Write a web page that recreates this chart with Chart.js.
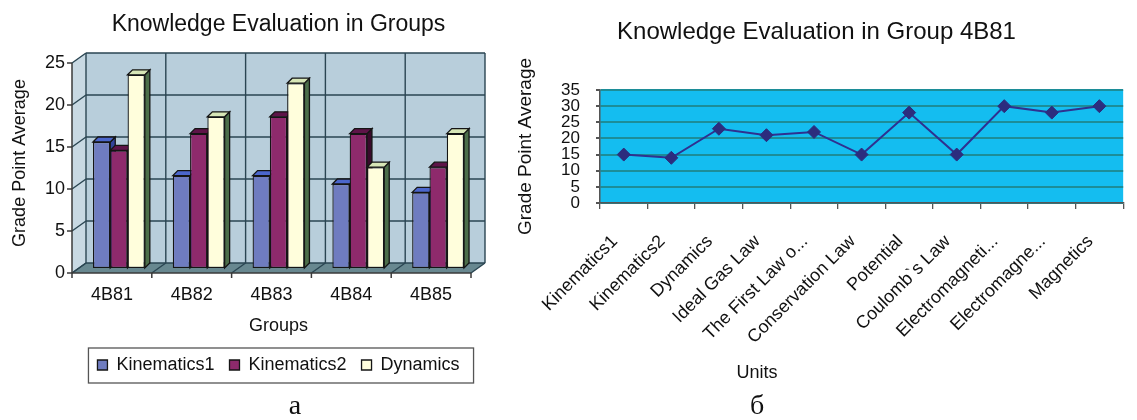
<!DOCTYPE html>
<html>
<head>
<meta charset="utf-8">
<script src="https://cdn.jsdelivr.net/npm/chart.js@4.4.1/dist/chart.umd.min.js"></script>
<style>
  html, body { margin: 0; padding: 0; background: #fff; }
  #wrap { position: relative; width: 1137px; height: 420px; overflow: hidden; }
  #box1 { position: absolute; left: 0; top: 0; width: 500px; height: 420px; }
  #box2 { position: absolute; left: 500px; top: 0; width: 637px; height: 420px; }
  .cap { position: absolute; font-family: 'Liberation Serif', 'DejaVu Serif', serif; font-size: 28px; color: #111;
         transform: translate(-50%, -50%); line-height: 1; }
  .axt { position: absolute; font-family: 'Liberation Sans', Arial, sans-serif; font-size: 18px; color: #111;
         transform: translate(-50%, -50%); line-height: 1; }
</style>
</head>
<body>
<div id="wrap">
  <div id="box1"><canvas id="groupsChart" width="500" height="420"></canvas></div>
  <div id="box2"><canvas id="unitsChart" width="637" height="420"></canvas></div>
  <div class="axt" style="left:757px; top:372px;">Units</div>
  <div class="cap" style="left:295px; top:405px;">а</div>
  <div class="cap" style="left:757px; top:405px;">б</div>
</div>
<script>
// ---- data: average grades per group ----
const groups = ['4B81', '4B82', '4B83', '4B84', '4B85'];
const kinematics1 = [15, 11, 11, 10, 9];
const kinematics2 = [14, 16, 18, 16, 12];
const dynamics = [23, 18, 22, 12, 16];
const groupAxisMax = 25;
const groupAxisStep = 5;

// ---- data: average grades per unit in group 4B81 ----
const units = ['Kinematics1', 'Kinematics2', 'Dynamics', 'Ideal Gas Law', 'The First Law o...',
  'Conservation Law', 'Potential', 'Coulomb`s Law', 'Electromagneti...', 'Electromagne...', 'Magnetics'];
const unitScores = [15, 14, 23, 21, 22, 15, 28, 15, 30, 28, 30];
const unitAxisMax = 35;
const unitAxisStep = 5;

Chart.defaults.font.family = "'Liberation Sans', Arial, sans-serif";
Chart.defaults.color = '#111';

// half of the box depth: the back wall sits up-right of the bar plane, the front axis down-left
const WALL_DX = 7, WALL_DY = 5;
const BAR_DEPTH = 5;
const barFront = ['#6f7cc0', '#8e2a6c', '#fffedc'];
const barSide = ['#33439a', '#3a0a2c', '#4c6e4a'];
const barTop = ['#4b66cc', '#5e1448', '#d7e6b6'];

function poly(ctx, pts, fill, stroke) {
  ctx.beginPath();
  ctx.moveTo(pts[0][0], pts[0][1]);
  for (let i = 1; i < pts.length; i++) ctx.lineTo(pts[i][0], pts[i][1]);
  ctx.closePath();
  if (fill) { ctx.fillStyle = fill; ctx.fill(); }
  if (stroke) { ctx.strokeStyle = stroke; ctx.stroke(); }
}
function seg(ctx, x1, y1, x2, y2) {
  ctx.beginPath(); ctx.moveTo(x1, y1); ctx.lineTo(x2, y2); ctx.stroke();
}

// walls, floor, grid and the depth faces of the bars
const box3d = {
  id: 'box3d',
  beforeDatasetsDraw(chart) {
    const { ctx, chartArea: a, scales: { x, y } } = chart;
    const L = a.left, R = a.right, T = a.top, B = a.bottom;
    const dx = WALL_DX, dy = WALL_DY;
    const step = (x.right - x.left) / groups.length;
    ctx.save();
    // back wall
    ctx.fillStyle = '#b8cedb';
    ctx.fillRect(L + dx, T - dy, R - L, B - T);
    // side wall
    poly(ctx, [[L - dx, T + dy], [L + dx, T - dy], [L + dx, B - dy], [L - dx, B + dy]], '#c8d9e3');
    // floor
    poly(ctx, [[L - dx, B + dy], [L + dx, B - dy], [R + dx, B - dy], [R - dx, B + dy]], '#688890');

    ctx.strokeStyle = '#2a4552';
    ctx.lineWidth = 1.4;
    // horizontal grid on the walls
    y.ticks.forEach(t => {
      const py = y.getPixelForValue(t.value);
      seg(ctx, L - dx, py + dy, L + dx, py - dy);
      seg(ctx, L + dx, py - dy, R + dx, py - dy);
    });
    // category boundaries on the back wall and floor
    for (let i = 0; i <= groups.length; i++) {
      const bx = x.left + i * step;
      if (i > 0) seg(ctx, bx + dx, T - dy, bx + dx, B - dy);
      seg(ctx, bx - dx, B + dy, bx + dx, B - dy);
    }
    seg(ctx, L + dx, T - dy, L + dx, B - dy);
    // front axes with tick marks
    ctx.strokeStyle = '#3a3a3a';
    ctx.lineWidth = 1.5;
    seg(ctx, L - dx, T + dy, L - dx, B + dy);
    seg(ctx, L - dx, B + dy, R - dx, B + dy);
    y.ticks.forEach(t => {
      const py = y.getPixelForValue(t.value) + dy;
      seg(ctx, L - dx - 5, py, L - dx, py);
    });
    for (let i = 0; i <= groups.length; i++) {
      const bx = x.left + i * step - dx;
      seg(ctx, bx, B + dy, bx, B + dy + 5);
    }

    // depth faces of the bars, left to right inside every group
    ctx.lineWidth = 1.3;
    const d = BAR_DEPTH;
    for (let i = 0; i < groups.length; i++) {
      chart.data.datasets.forEach((ds, k) => {
        const el = chart.getDatasetMeta(k).data[i];
        const p = el.getProps(['x', 'y', 'width', 'base'], true);
        const l = p.x - p.width / 2, r = p.x + p.width / 2;
        poly(ctx, [[r, p.y], [r + d, p.y - d], [r + d, p.base - d], [r, p.base]], barSide[k], '#151515');
        poly(ctx, [[l, p.y], [l + d, p.y - d], [r + d, p.y - d], [r, p.y]], barTop[k], '#151515');
      });
    }
    ctx.restore();
  }
};

// frame round the legend row
const legendFrame = {
  id: 'legendFrame',
  afterDraw(chart) {
    const hb = chart.legend.legendHitBoxes;
    if (!hb || !hb.length) return;
    const first = hb[0], last = hb[hb.length - 1];
    const cy = first.top + first.height / 2;
    const { ctx } = chart;
    ctx.save();
    ctx.strokeStyle = '#555';
    ctx.lineWidth = 1.3;
    const x0 = first.left - 9;
    ctx.strokeRect(x0, cy - 17, last.left + last.width + 14 - x0, 35);
    ctx.restore();
  }
};

new Chart(document.getElementById('groupsChart'), {
  type: 'bar',
  data: {
    labels: groups,
    datasets: [
      { label: 'Kinematics1', data: kinematics1 },
      { label: 'Kinematics2', data: kinematics2 },
      { label: 'Dynamics', data: dynamics }
    ].map((ds, k) => Object.assign(ds, {
      backgroundColor: barFront[k],
      borderColor: '#151515',
      borderWidth: 1.3,
      borderSkipped: false,
      categoryPercentage: 0.65,
      barPercentage: 1.0
    }))
  },
  options: {
    responsive: false,
    animation: false,
    events: [],
    layout: { padding: { left: 0, right: 22, top: 0, bottom: 36 } },
    scales: {
      x: {
        grid: { display: false, drawTicks: false },
        border: { display: false },
        ticks: { font: { size: 18 }, padding: 16, labelOffset: -7 },
        title: { display: true, text: 'Groups', font: { size: 18 }, padding: { top: 0, bottom: 4 } },
        afterFit(s) { s.height = 73; }
      },
      y: {
        min: 0, max: groupAxisMax,
        grid: { display: false, drawTicks: false },
        border: { display: false },
        ticks: { stepSize: groupAxisStep, font: { size: 18 }, padding: 14, labelOffset: WALL_DY },
        title: { display: true, text: 'Grade Point Average', font: { size: 18 }, padding: { top: 9, bottom: 0 } },
        afterFit(s) { s.width = 79; }
      }
    },
    plugins: {
      tooltip: { enabled: false },
      title: {
        display: true, text: 'Knowledge Evaluation in Groups', fullSize: false,
        font: { size: 23, weight: 'normal' }, color: '#111',
        padding: { top: 11, bottom: 19.4 }
      },
      legend: {
        position: 'bottom', fullSize: false,
        labels: { boxWidth: 10, boxHeight: 10, padding: 15, font: { size: 18 }, color: '#111' }
      }
    }
  },
  plugins: [box3d, legendFrame]
});

// cyan plot background
const plotFill = {
  id: 'plotFill',
  beforeDraw(chart) {
    const { ctx, chartArea: a } = chart;
    ctx.save();
    ctx.fillStyle = '#14bdf0';
    ctx.fillRect(a.left, a.top, a.right - a.left, a.bottom - a.top);
    ctx.restore();
  }
};

new Chart(document.getElementById('unitsChart'), {
  type: 'line',
  data: {
    labels: units,
    datasets: [{
      label: '4B81',
      data: unitScores,
      borderColor: '#2f3190',
      borderWidth: 2,
      tension: 0,
      pointStyle: 'rectRot',
      pointRadius: 6.5,
      pointBackgroundColor: '#2c2d7e',
      pointBorderColor: '#2c2d7e',
      pointBorderWidth: 1
    }]
  },
  options: {
    responsive: false,
    animation: false,
    events: [],
    layout: { padding: { left: 0, right: 4, top: 0, bottom: 0 } },
    scales: {
      x: {
        offset: true,
        grid: { offset: true, drawOnChartArea: false, tickColor: '#555', tickLength: 6, lineWidth: 1.3 },
        border: { color: '#555', width: 1.5 },
        ticks: { autoSkip: false, minRotation: 45, maxRotation: 45, font: { size: 18 }, padding: 22, labelOffset: -9 },
        afterFit(s) { s.height = 217; }
      },
      y: {
        min: 0, max: unitAxisMax,
        grid: { color: '#1c8d98', lineWidth: 2, tickColor: '#555', tickLength: 4 },
        border: { color: '#555', width: 1.5 },
        ticks: { stepSize: unitAxisStep, autoSkip: false, font: { size: 17 }, padding: 16 },
        title: { display: true, text: 'Grade Point Average', font: { size: 19 }, padding: { top: 14, bottom: 0 } },
        afterFit(s) { s.width = 100; }
      }
    },
    plugins: {
      tooltip: { enabled: false },
      legend: { display: false },
      title: {
        display: true, text: 'Knowledge Evaluation in Group 4B81',
        font: { size: 24, weight: 'normal' }, color: '#111',
        padding: { top: 18, bottom: 43.2 }
      }
    }
  },
  plugins: [plotFill]
});
</script>
</body>
</html>
